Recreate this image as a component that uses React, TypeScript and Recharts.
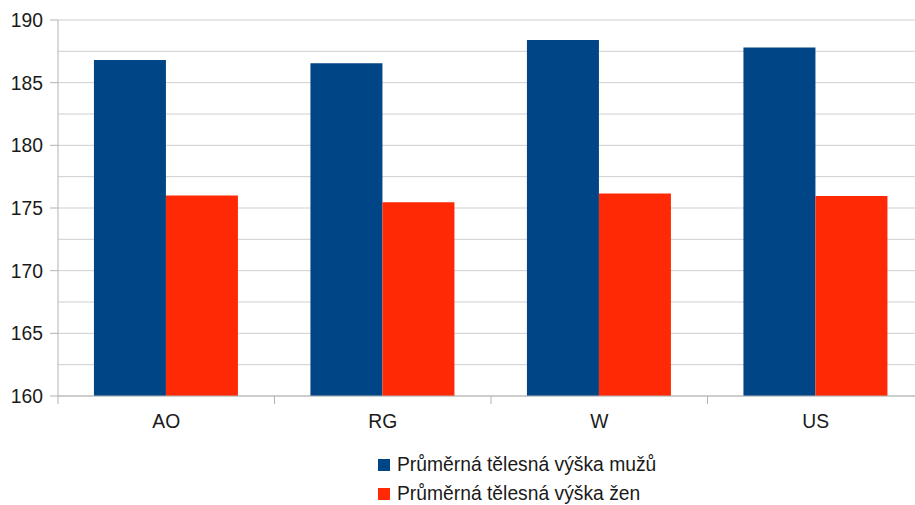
import React from "react";
import { BarChart, Bar, XAxis, YAxis, CartesianGrid, Legend } from "recharts";

const categories = ["AO", "RG", "W", "US"];
const menHeights = [186.8, 186.55, 188.4, 187.8];
const womenHeights = [176.0, 175.45, 176.15, 175.95];
const yTicks = [160, 162.5, 165, 167.5, 170, 172.5, 175, 177.5, 180, 182.5, 185, 187.5, 190];
const seriesNames = ["Průměrná tělesná výška mužů", "Průměrná tělesná výška žen"];
const seriesColors = ["#004586", "#ff2a05"];

const W = 940;
const H = 505;
const MARGIN = { top: 20, right: 16, bottom: 0, left: 8 };
const Y_AXIS_W = 50;
const PLOT_W = W - MARGIN.left - MARGIN.right - Y_AXIS_W;
const CAT_W = PLOT_W / categories.length;

const FONT = "'Liberation Sans', Arial, sans-serif";
const FONT_SIZE = 19.3;
const AXIS = "#b3b3b3";
const GRID = "#cfcfcf";
const TEXT = "#1a1a1a";

const data = categories.map((c, i) => ({ name: c, men: menHeights[i], women: womenHeights[i] }));

// labels and tick marks only on every 5 cm, grid keeps the 2.5 steps
function YTick({ x, y, payload }: any) {
  const v = payload.value;
  if (v % 5 !== 0) return <g />;
  return (
    <g>
      <line x1={x - 8} x2={x} y1={y} y2={y} stroke={AXIS} />
      <text x={x - 15} y={y + 7} textAnchor="end" fontSize={FONT_SIZE} fontFamily={FONT} fill={TEXT}>
        {v}
      </text>
    </g>
  );
}

// tick marks sit on category boundaries, label in the middle
function XTick({ x, y, payload, index }: any) {
  const last = index === categories.length - 1;
  return (
    <g>
      <line x1={x - CAT_W / 2} x2={x - CAT_W / 2} y1={y} y2={y + 8} stroke={AXIS} />
      {last && <line x1={x + CAT_W / 2} x2={x + CAT_W / 2} y1={y} y2={y + 8} stroke={AXIS} />}
      <text x={x} y={y + 32} textAnchor="middle" fontSize={FONT_SIZE} fontFamily={FONT} fill={TEXT}>
        {payload.value}
      </text>
    </g>
  );
}

function LegendBox() {
  return (
    <div style={{ fontFamily: FONT, fontSize: FONT_SIZE, color: TEXT }}>
      {seriesNames.map((n, i) => (
        <div key={n} style={{ display: "flex", alignItems: "center", height: 28.5 }}>
          <span style={{ width: 12, height: 12, background: seriesColors[i], display: "inline-block" }} />
          <span style={{ marginLeft: 7, whiteSpace: "nowrap" }}>{n}</span>
        </div>
      ))}
    </div>
  );
}

export default function App() {
  return (
    <div style={{ width: 915, height: 505, overflow: "hidden", background: "#fff" }}>
      <style>{`body{margin:0;overflow:hidden;background:#fff}`}</style>
      <BarChart width={W} height={H} data={data} margin={MARGIN} barCategoryGap="16.6%" barGap={0}>
        <CartesianGrid vertical={false} stroke={GRID} />
        <XAxis
          dataKey="name"
          height={H - MARGIN.top - 376}
          stroke={AXIS}
          tickLine={false}
          tickSize={0}
          tickMargin={0}
          interval={0}
          tick={<XTick />}
        />
        <YAxis
          width={Y_AXIS_W}
          domain={[160, 190]}
          ticks={yTicks}
          interval={0}
          stroke={AXIS}
          tickLine={false}
          tickSize={0}
          tickMargin={0}
          tick={<YTick />}
        />
        <Legend
          layout="vertical"
          align="center"
          verticalAlign="middle"
          content={<LegendBox />}
          wrapperStyle={{ left: 378, top: 451, width: "auto" }}
        />
        <Bar dataKey="men" name={seriesNames[0]} fill={seriesColors[0]} isAnimationActive={false} />
        <Bar dataKey="women" name={seriesNames[1]} fill={seriesColors[1]} isAnimationActive={false} />
      </BarChart>
    </div>
  );
}
